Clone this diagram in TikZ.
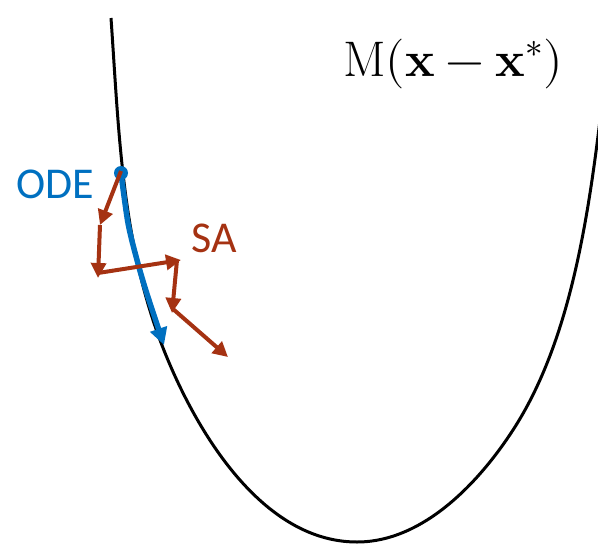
\documentclass[tikz,border=0pt]{standalone}
\usepackage{fontspec}
\usepackage{unicode-math}
\setmathfont{Latin Modern Math}
\newfontfamily\labelfont{Carlito}
\usetikzlibrary{arrows.meta}
\definecolor{odeblue}{RGB}{0,112,192}
\definecolor{sared}{RGB}{165,50,18}
\tikzset{
  curve/.style={line width=3pt, black, line join=round},
  odepath/.style={line width=5.5pt, odeblue, -{Triangle[length=17pt,width=17pt]}},
  sastep/.style={line width=4pt, sared, -{Triangle[length=15pt,width=15pt]}},
  lbl/.style={font=\labelfont\fontsize{44}{50}\selectfont, inner sep=0pt, anchor=base west}
}
\begin{document}
\begin{tikzpicture}[x=1pt,y=-1pt]
\useasboundingbox (0,0) rectangle (598,544);
\begin{scope}
\clip (0,0) rectangle (598,544);
\draw[curve] (111,18) .. controls (118.7,128) and (121.5,236.9) .. (160,340)
  .. controls (189.8,419.6) and (257,542) .. (357,542)
  .. controls (422,542) and (477.6,484.5) .. (513,430)
  .. controls (567.5,346.1) and (586.8,229) .. (600,120);
\end{scope}
% ODE trajectory
\coordinate (o0) at (121,173);
\coordinate (o1) at (164,345);
\draw[odepath] plot[smooth] coordinates {(o0) (128,223) (137,260) (147,294) (o1)};
\fill[odeblue] (o0) circle (7);
\node[lbl, text=odeblue] (ode) at (16,198) {ODE};
% SA steps
\coordinate (p0) at (121,171);
\coordinate (p1) at (100,225);
\coordinate (p2) at (98,278);
\coordinate (p3) at (181,260);
\coordinate (p4) at (172,313);
\coordinate (p5) at (228,357);
\draw[sastep] (p0) -- (p1);
\draw[sastep] (p1) -- (p2);
\draw[sastep] (98,273) -- (p3);
\draw[sastep] (177,260) -- (p4);
\draw[sastep] (173,309) -- (p5);
\node[lbl, text=sared] (sa) at (191,252) {SA};
% formula
\node[inner sep=0pt, anchor=base west, font=\fontsize{50}{58}\selectfont] (m) at (343,76) {$\mathrm{M}(\mathbf{x}-\mathbf{x}^{*})$};
\end{tikzpicture}
\end{document}
